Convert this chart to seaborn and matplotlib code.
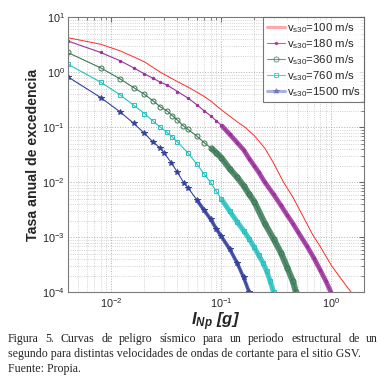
import numpy as np
import pandas as pd
import matplotlib
matplotlib.use("Agg")
import matplotlib.pyplot as plt
import seaborn as sns

# datos (log10 de la tasa anual)
x_100 = [0.004, 0.008, 0.012, 0.016, 0.02, 0.028, 0.04, 0.05, 0.06, 0.07, 0.08, 0.1, 0.12, 0.14,
         0.165, 0.2, 0.25, 0.3, 0.37, 0.45, 0.55, 0.68, 0.8, 1.0, 1.2, 1.4, 1.53]
ly_100 = [0.63, 0.51, 0.39, 0.28, 0.19, 0.0, -0.17, -0.27, -0.36, -0.44, -0.52, -0.68, -0.80, -0.90,
          -1.0, -1.15, -1.38, -1.65, -2.0, -2.27, -2.6, -2.95, -3.17, -3.5, -3.72, -3.9, -4.0]

x_180 = [0.004, 0.008, 0.012, 0.016, 0.02, 0.024, 0.028, 0.032, 0.04, 0.05, 0.06, 0.07, 0.08, 0.09,
         0.1, 0.12, 0.14, 0.16, 0.18, 0.2, 0.22, 0.25, 0.3, 0.35, 0.4, 0.45, 0.5, 0.6, 0.7, 0.8, 0.9, 1.0]
ly_180 = [0.57, 0.36, 0.21, 0.08, -0.03, -0.11, -0.18, -0.23, -0.35, -0.47, -0.59, -0.70, -0.79, -0.88,
          -0.96, -1.13, -1.28, -1.41, -1.57, -1.70, -1.82, -2.0, -2.22, -2.42, -2.6, -2.75, -2.9,
          -3.15, -3.38, -3.6, -3.8, -4.0]

x_360 = [0.004, 0.008, 0.012, 0.016, 0.02, 0.024, 0.028, 0.032, 0.036, 0.04, 0.045, 0.05, 0.06, 0.07,
         0.08, 0.09, 0.1, 0.12, 0.14, 0.16, 0.18, 0.2, 0.25, 0.3, 0.35, 0.4, 0.45, 0.48]
ly_360 = [0.36, 0.08, -0.12, -0.28, -0.40, -0.52, -0.63, -0.70, -0.79, -0.87, -0.97, -1.04, -1.16, -1.28,
          -1.37, -1.46, -1.55, -1.76, -1.91, -2.06, -2.22, -2.35, -2.75, -3.03, -3.28, -3.55, -3.8, -4.0]

x_760 = [0.004, 0.008, 0.012, 0.016, 0.02, 0.024, 0.028, 0.032, 0.036, 0.04, 0.05, 0.06, 0.07, 0.08,
         0.09, 0.1, 0.12, 0.14, 0.16, 0.18, 0.2, 0.22, 0.24, 0.26, 0.28, 0.3]
ly_760 = [0.15, -0.18, -0.41, -0.60, -0.75, -0.89, -1.0, -1.09, -1.18, -1.27, -1.47, -1.67, -1.85, -2.0,
          -2.16, -2.3, -2.53, -2.72, -2.88, -3.03, -3.18, -3.33, -3.46, -3.62, -3.8, -4.0]

x_1500 = [0.004, 0.008, 0.012, 0.016, 0.02, 0.024, 0.028, 0.03, 0.035, 0.04, 0.046, 0.05, 0.06, 0.07,
          0.08, 0.09, 0.1, 0.12, 0.14, 0.16, 0.18]
ly_1500 = [-0.08, -0.46, -0.72, -0.93, -1.11, -1.27, -1.38, -1.46, -1.64, -1.82, -2.02, -2.10, -2.32,
           -2.51, -2.67, -2.84, -2.98, -3.22, -3.47, -3.73, -4.0]

vs30 = [100, 180, 360, 760, 1500]
colores = ["#ff2a2a", "#9c2f9c", "#3b7a56", "#25c2c0", "#34429e"]
marcadores = [None, ".", "o", "s", "*"]
tallas = [0, 3.5, 3.6, 3.2, 4.2]
banda_desde = [None, 0.1, 0.08, 0.1, 0.06]
banda_ancho = [0, 3.4, 4.4, 3.6, 2.6]

series = [(x_100, ly_100), (x_180, ly_180), (x_360, ly_360), (x_760, ly_760), (x_1500, ly_1500)]
frames = []
for v, (xs, lys) in zip(vs30, series):
    frames.append(pd.DataFrame({"I": xs, "tasa": 10 ** np.array(lys), "vs30": v}))
df = pd.concat(frames, ignore_index=True)

sns.set_style("white")
plt.rcParams["font.family"] = ["Liberation Sans", "DejaVu Sans"]
plt.rcParams["mathtext.fontset"] = "custom"
plt.rcParams["mathtext.rm"] = "Liberation Sans"
plt.rcParams["mathtext.it"] = "Liberation Sans:italic"
plt.rcParams["mathtext.bf"] = "Liberation Sans:bold:italic"

fig = plt.figure(figsize=(3.88, 3.81), dpi=100)
ax = fig.add_axes([0.1745, 0.2328, 0.7637, 0.7218])

for i, v in enumerate(vs30):
    d = df[df["vs30"] == v]
    lab = r"v$_{\mathregular{s30}}$=%d m/s" % v
    if marcadores[i] is None:
        sns.lineplot(data=d, x="I", y="tasa", ax=ax, color=colores[i], lw=0.7,
                     label=lab, sort=False)
        continue
    # zona densa de marcadores -> banda gruesa
    dd = d[d["I"] >= banda_desde[i]]
    ax.plot(dd["I"], dd["tasa"], color=colores[i], lw=banda_ancho[i], alpha=0.85,
            solid_capstyle="butt")
    mfc = colores[i] if marcadores[i] in (".", "*") else "none"
    sns.lineplot(data=d, x="I", y="tasa", ax=ax, color=colores[i], lw=0.8, sort=False,
                 marker=marcadores[i], markersize=tallas[i], markerfacecolor=mfc,
                 markeredgecolor=colores[i], markeredgewidth=0.7, label=lab)

ax.set_xscale("log")
ax.set_yscale("log")
ax.set_xlim(0.004, 2)
ax.set_ylim(1e-4, 10)

ax.grid(True, which="major", color="#b0b0b0", ls=":", lw=0.7)
ax.grid(True, which="minor", color="#c4c4c4", ls=":", lw=0.6)
ax.tick_params(which="both", direction="in", top=True, right=True, color="#666666",
               labelsize=7.8)
ax.tick_params(axis="y", pad=2)
ax.tick_params(axis="x", pad=3)
ax.tick_params(which="major", length=3.5)
ax.tick_params(which="minor", length=2)
for s in ax.spines.values():
    s.set_color("#7a7a7a")
    s.set_linewidth(0.8)

ax.set_xlabel(r"$\mathbf{I_{Np}}$ [g]", fontsize=12, fontweight="bold", style="italic",
              labelpad=0)
ax.set_ylabel("Tasa anual de excedencia", fontsize=10.2, fontweight="bold", labelpad=1.5)

leg = ax.legend(loc="upper right", fontsize=8.2, frameon=True, fancybox=False,
                borderaxespad=0, handlelength=1.6, handletextpad=0.15, labelspacing=0.2,
                borderpad=0.3)
leg.get_frame().set_edgecolor("#555555")
leg.get_frame().set_linewidth(0.8)
for i, h in enumerate(leg.legend_handles):
    h.set_alpha(0.75)
    if i in (0, 4):
        h.set_linewidth(2.2)
        h.set_alpha(0.4)

caption = ["Figura 5. Curvas de peligro sísmico para un periodo estructural de un",
           "segundo para distintas velocidades de ondas de cortante para el sitio GSV.",
           "Fuente: Propia."]
serif = ["Liberation Serif", "DejaVu Serif"]
x0, x1 = 8 / 388, 378 / 388
fig.canvas.draw()
renderer = fig.canvas.get_renderer()
for k, linea in enumerate(caption):
    y = 1 - (339 + 15 * k) / 381
    if k != 0:
        fig.text(x0, y, linea, fontsize=8.6, family=serif, va="center", ha="left")
        continue
    # primera linea justificada
    palabras = linea.split(" ")
    textos = [fig.text(0, y, p, fontsize=8.6, family=serif, va="center", ha="left")
              for p in palabras]
    anchos = [t.get_window_extent(renderer).width / fig.bbox.width for t in textos]
    hueco = (x1 - x0 - sum(anchos)) / (len(palabras) - 1)
    pos = x0
    for t, w in zip(textos, anchos):
        t.set_x(pos)
        pos += w + hueco

fig.savefig("out.png", dpi=100)
